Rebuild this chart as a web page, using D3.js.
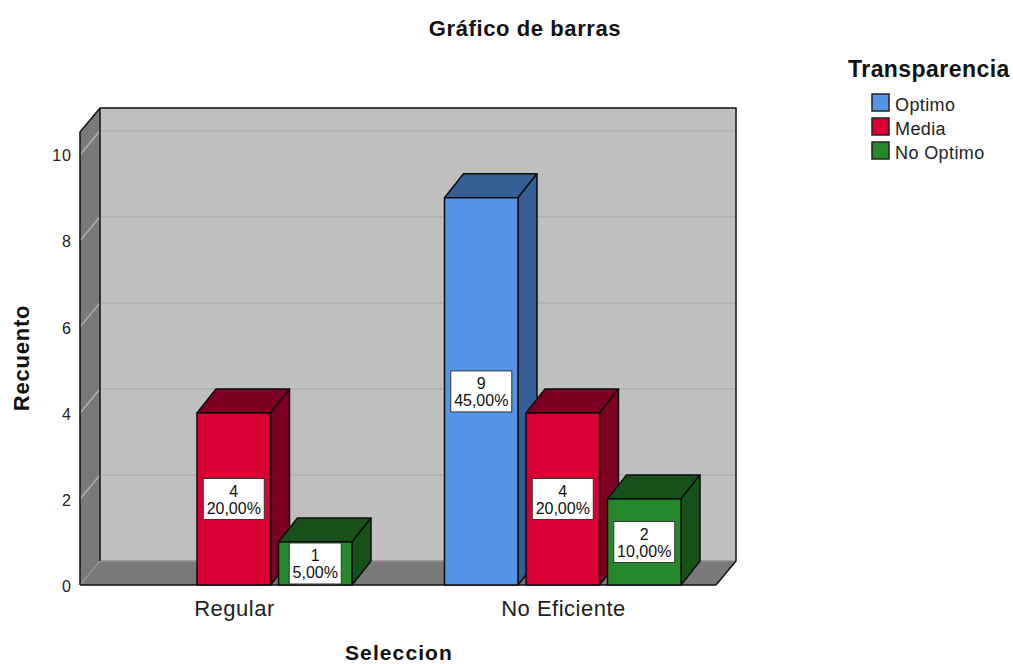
<!DOCTYPE html>
<html>
<head>
<meta charset="utf-8">
<script src="https://cdn.jsdelivr.net/npm/d3@7"></script>
<style>
  html, body { margin: 0; padding: 0; background: #fff; }
  svg { display: block; }
  text { font-family: "Liberation Sans", Arial, sans-serif; fill: #111; }
</style>
</head>
<body>
<div id="chart"></div>
<script>
// values
const categories = ["Regular", "No Eficiente"];
const seriesNames = ["Optimo", "Media", "No Optimo"];
const counts = [
  [0, 4, 1],   // Regular
  [9, 4, 2]    // No Eficiente
];
const percents = [
  ["", "20,00%", "5,00%"],
  ["45,00%", "20,00%", "10,00%"]
];
const yTicks = [0, 2, 4, 6, 8, 10];
const frontColors = ["#5594e6", "#d90033", "#26882a"];
const topColors = ["#365f95", "#7d0022", "#18501a"];

const width = 1013, height = 664;

// the 3d box: front plane and how far the back wall is shifted
const frontLeft = 80, frontRight = 716, depthX = 20, depthY = 24;
const barDepthX = 19;

const svg = d3.select("#chart")
  .append("svg")
    .attr("width", width)
    .attr("height", height);

const y = d3.scaleLinear()
  .domain([0, 10.53])
  .range([585, 132]);

const x0 = d3.scalePoint()
  .domain(categories)
  .range([234, 563]);

const x1 = d3.scaleBand()
  .domain(seriesNames)
  .range([-118.5, 118])
  .paddingInner(0.098);

const poly = pts => pts.map(p => p.join(",")).join(" ");

// Back wall, left wall and floor
const yTop = y.range()[1], yBase = y.range()[0];
svg.append("polygon")
  .attr("points", poly([[frontLeft + depthX, yTop - depthY], [frontRight + depthX, yTop - depthY], [frontRight + depthX, yBase - depthY], [frontLeft + depthX, yBase - depthY]]))
  .attr("fill", "#bfbfbf");
svg.append("polygon")
  .attr("points", poly([[frontLeft, yTop], [frontLeft + depthX, yTop - depthY], [frontLeft + depthX, yBase - depthY], [frontLeft, yBase]]))
  .attr("fill", "#797979");
svg.append("polygon")
  .attr("points", poly([[frontLeft, yBase], [frontLeft + depthX, yBase - depthY], [frontRight + depthX, yBase - depthY], [frontRight, yBase]]))
  .attr("fill", "#797979");

// Grid lines, they run along the left wall and then along the back wall
svg.append("g").selectAll("polyline")
  .data(yTicks)
  .enter()
  .append("polyline")
    .attr("points", d => poly([[frontLeft, y(d)], [frontLeft + depthX, y(d) - depthY], [frontRight + depthX, y(d) - depthY]]))
    .attr("fill", "none")
    .attr("stroke", d => d === 0 ? "#929292" : "#b0b0b0")
    .attr("stroke-width", 1.5);

// Box outline
const outline = svg.append("g").attr("fill", "none").attr("stroke", "#111").attr("stroke-width", 1.5);
outline.append("polyline")
  .attr("points", poly([[frontLeft, yBase], [frontLeft, yTop], [frontLeft + depthX, yTop - depthY], [frontRight + depthX, yTop - depthY], [frontRight + depthX, yBase - depthY], [frontRight, yBase]]));
outline.append("line")
  .attr("x1", frontLeft + depthX).attr("x2", frontLeft + depthX)
  .attr("y1", yTop - depthY).attr("y2", yBase - depthY);
outline.append("line")
  .attr("x1", frontLeft).attr("x2", frontRight)
  .attr("y1", yBase).attr("y2", yBase);

// Axes
const yAxis = svg.append("g")
  .attr("transform", `translate(${frontLeft},1)`)
  .call(d3.axisLeft(y).tickValues(yTicks).tickSize(0).tickPadding(8));
yAxis.select(".domain").remove();
yAxis.selectAll(".tick text")
  .style("font-size", "16px")
  .style("letter-spacing", "1px")
  .style("fill", "#222")
  .style("font-family", '"Liberation Sans", Arial, sans-serif');

const xAxis = svg.append("g")
  .attr("transform", `translate(0,${yBase})`)
  .call(d3.axisBottom(x0).tickSize(0).tickPadding(15));
xAxis.select(".domain").remove();
xAxis.selectAll(".tick text")
  .style("font-size", "22px")
  .style("letter-spacing", "0.5px")
  .style("fill", "#222")
  .style("font-family", '"Liberation Sans", Arial, sans-serif');

// Bars, flat list built from the arrays
const bars = [];
categories.forEach((c, i) => {
  seriesNames.forEach((s, j) => {
    if (counts[i][j] > 0) bars.push({cat: c, name: s, idx: j, value: counts[i][j], pct: percents[i][j]});
  });
});

const bar = svg.append("g").selectAll("g")
  .data(bars)
  .enter()
  .append("g")
    .attr("stroke", "#0d0d0d")
    .attr("stroke-width", 1.5)
    .attr("stroke-linejoin", "round");

const bx = d => x0(d.cat) + x1(d.name);
const bw = x1.bandwidth();

bar.append("polygon")
  .attr("fill", d => topColors[d.idx])
  .attr("points", d => poly([[bx(d), y(d.value)], [bx(d) + barDepthX, y(d.value) - depthY], [bx(d) + bw + barDepthX, y(d.value) - depthY], [bx(d) + bw, y(d.value)]]));
bar.append("polygon")
  .attr("fill", d => topColors[d.idx])
  .attr("points", d => poly([[bx(d) + bw, y(d.value)], [bx(d) + bw + barDepthX, y(d.value) - depthY], [bx(d) + bw + barDepthX, yBase - depthY], [bx(d) + bw, yBase]]));
bar.append("rect")
  .attr("fill", d => frontColors[d.idx])
  .attr("x", bx)
  .attr("y", d => y(d.value))
  .attr("width", bw)
  .attr("height", d => yBase - y(d.value));

// Value labels in white boxes at the middle of each bar
const label = svg.append("g").selectAll("g")
  .data(bars)
  .enter()
  .append("g")
    .attr("transform", d => `translate(${bx(d) + bw / 2},${(y(d.value) + yBase) / 2})`);

label.append("rect")
  .attr("x", d => d.pct.length > 5 ? -30.5 : -26)
  .attr("y", -20.5)
  .attr("width", d => d.pct.length > 5 ? 61 : 52)
  .attr("height", 41)
  .attr("fill", "#fff")
  .attr("stroke", "#333")
  .attr("stroke-width", 1);
label.append("text")
  .attr("text-anchor", "middle")
  .attr("y", -2)
  .style("font-size", "16px")
  .text(d => d.value);
label.append("text")
  .attr("text-anchor", "middle")
  .attr("y", 15)
  .style("font-size", "16px")
  .text(d => d.pct);

// Titles
svg.append("text")
  .attr("x", 525).attr("y", 36)
  .attr("text-anchor", "middle")
  .style("font-size", "22px")
  .style("letter-spacing", "0.6px")
  .style("font-weight", "bold")
  .text("Gráfico de barras");
svg.append("text")
  .attr("x", 399).attr("y", 659.5)
  .attr("text-anchor", "middle")
  .style("font-size", "21px")
  .style("letter-spacing", "1.1px")
  .style("font-weight", "bold")
  .text("Seleccion");
svg.append("text")
  .attr("transform", "translate(29,358) rotate(-90)")
  .attr("text-anchor", "middle")
  .style("font-size", "22px")
  .style("letter-spacing", "0.8px")
  .style("font-weight", "bold")
  .text("Recuento");

// Handmade legend
svg.append("text")
  .attr("x", 848).attr("y", 77)
  .style("font-size", "23px")
  .style("letter-spacing", "0.45px")
  .style("font-weight", "bold")
  .text("Transparencia");
const legend = svg.append("g").selectAll("g")
  .data(seriesNames)
  .enter()
  .append("g")
    .attr("transform", (d, i) => `translate(872,${94 + i * 24})`);
legend.append("rect")
  .attr("width", 17).attr("height", 17)
  .attr("fill", (d, i) => frontColors[i])
  .attr("stroke", "#222")
  .attr("stroke-width", 1.5);
legend.append("text")
  .attr("x", 23).attr("y", 17)
  .style("font-size", "18px")
  .style("letter-spacing", "0.4px")
  .style("fill", "#222")
  .text(d => d);
</script>
</body>
</html>
